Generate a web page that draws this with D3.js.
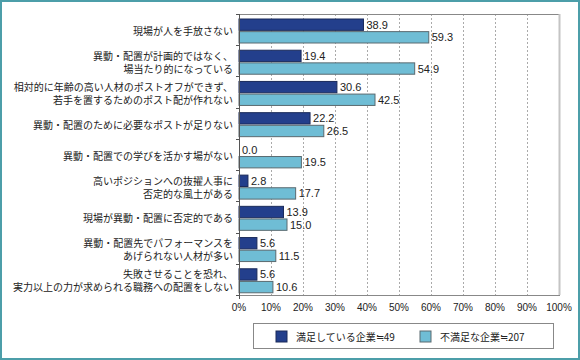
<!DOCTYPE html>
<html>
<head>
<meta charset="utf-8">
<script src="https://cdn.jsdelivr.net/npm/d3@7"></script>
<style>
  body { margin: 0; background: #fff; }
  text { font-family: "Noto Sans CJK JP", sans-serif; fill: #222; }
  .num { font-family: "Liberation Sans", Arial, sans-serif; }
</style>
</head>
<body>
<div id="wrapper"></div>
<script>
// data
const categories = [
  ["現場が人を手放さない"],
  ["異動・配置が計画的ではなく、", "場当たり的になっている"],
  ["相対的に年齢の高い人材のポストオフができず、", "若手を置するためのポスト配が作れない"],
  ["異動・配置のために必要なポストが足りない"],
  ["異動・配置での学びを活かす場がない"],
  ["高いポジションへの抜擢人事に", "否定的な風土がある"],
  ["現場が異動・配置に否定的である"],
  ["異動・配置先でパフォーマンスを", "あげられない人材が多い"],
  ["失敗させることを恐れ、", "実力以上の力が求められる職務への配置をしない"]
];
const satisfied = [38.9, 19.4, 30.6, 22.2, 0.0, 2.8, 13.9, 5.6, 5.6];
const unsatisfied = [59.3, 54.9, 42.5, 26.5, 19.5, 17.7, 15.0, 11.5, 10.6];
const seriesNames = ["満足している企業≒49", "不満足な企業≒207"];
const xTicks = [0, 10, 20, 30, 40, 50, 60, 70, 80, 90, 100];

const width = 580, height = 360;
const plot = { left: 239, right: 559, top: 14, bottom: 295 };
const colors = ["#233f8c", "#6fbdd5"];
const strokes = ["#1a2a5a", "#5a6a70"];

const svg = d3.select("#wrapper").append("svg")
    .attr("width", width)
    .attr("height", height);

// outer frame
svg.append("rect")
    .attr("x", 1).attr("y", 1)
    .attr("width", width - 2).attr("height", height - 2)
    .attr("fill", "none")
    .attr("stroke", "#4c9ea9")
    .attr("stroke-width", 2);

const x = d3.scaleLinear().domain([0, 100]).range([plot.left, plot.right]);
const y0 = d3.scaleBand().domain(d3.range(categories.length)).range([plot.top, plot.bottom]);
const y1 = d3.scaleBand().domain([0, 1]).range([5, 29]).paddingInner(0.1);

// gridlines
svg.append("g")
  .selectAll("line")
  .data(xTicks.slice(1, -1))
  .join("line")
    .attr("x1", d => x(d) + 0.5).attr("x2", d => x(d) + 0.5)
    .attr("y1", plot.top).attr("y2", plot.bottom)
    .attr("stroke", "#aaa")
    .attr("stroke-dasharray", "2,2");

// plot border: top/right with shaded right edge
svg.append("line")
    .attr("x1", plot.left).attr("x2", plot.right)
    .attr("y1", plot.top + 0.5).attr("y2", plot.top + 0.5)
    .attr("stroke", "#888");
svg.append("line")
    .attr("x1", plot.right + 0.5).attr("x2", plot.right + 0.5)
    .attr("y1", plot.top).attr("y2", plot.bottom)
    .attr("stroke", "#c4c4c4").attr("stroke-width", 2);
svg.append("line")
    .attr("x1", plot.left).attr("x2", plot.right + 1)
    .attr("y1", plot.bottom + 0.5).attr("y2", plot.bottom + 0.5)
    .attr("stroke", "#888");

// bars
const groups = svg.append("g")
  .selectAll("g")
  .data(categories.map((c, i) => ({ i, vals: [satisfied[i], unsatisfied[i]] })))
  .join("g")
    .attr("transform", d => `translate(0,${y0(d.i)})`);

groups.selectAll("rect")
  .data(d => d.vals.map((v, s) => ({ v, s })))
  .join("rect")
    .attr("x", x(0))
    .attr("y", d => y1(d.s))
    .attr("width", d => x(d.v) - x(0))
    .attr("height", y1.bandwidth())
    .attr("fill", d => colors[d.s])
    .attr("stroke", d => d.v > 0 ? strokes[d.s] : "none")
    .attr("stroke-width", 1);

groups.selectAll("text.val")
  .data(d => d.vals.map((v, s) => ({ v, s })))
  .join("text")
    .attr("class", "val num")
    .attr("x", d => x(d.v) + 3)
    .attr("y", d => y1(d.s) + y1.bandwidth() / 2 + 4)
    .attr("font-size", 11)
    .text(d => d.v.toFixed(1));

// left axis
svg.append("line")
    .attr("x1", plot.left + 0.5).attr("x2", plot.left + 0.5)
    .attr("y1", plot.top).attr("y2", plot.bottom + 4)
    .attr("stroke", "#555");
svg.append("g")
  .selectAll("line")
  .data(d3.range(categories.length + 1))
  .join("line")
    .attr("x1", plot.left - 3).attr("x2", plot.left)
    .attr("y1", d => Math.round(plot.top + d * y0.step()) + 0.5)
    .attr("y2", d => Math.round(plot.top + d * y0.step()) + 0.5)
    .attr("stroke", "#555");

// category labels
const catLabels = svg.append("g")
  .selectAll("text")
  .data(categories)
  .join("text")
    .attr("text-anchor", "end")
    .attr("font-size", 10)
    .attr("transform", (d, i) => `translate(233,${y0(i) + y0.bandwidth() / 2 + 2})`);

catLabels.selectAll("tspan")
  .data(d => d.map((line, k) => ({ line, k, n: d.length })))
  .join("tspan")
    .attr("x", 0)
    .attr("y", d => (d.k - (d.n - 1) / 2) * 13 + 3.5)
    .text(d => d.line);

// x ticks
svg.append("g")
  .selectAll("text")
  .data(xTicks)
  .join("text")
    .attr("class", "num")
    .attr("x", d => x(d))
    .attr("y", 311)
    .attr("text-anchor", "middle")
    .attr("font-size", 10)
    .text(d => d + "%");

// legend
svg.append("rect")
    .attr("x", 253.5).attr("y", 323.5)
    .attr("width", 300).attr("height", 25)
    .attr("fill", "#fff")
    .attr("stroke", "#888");

const legendX = [276, 420];
const legend = svg.append("g")
  .selectAll("g")
  .data(seriesNames)
  .join("g")
    .attr("transform", (d, i) => `translate(${legendX[i]},331)`);

legend.append("rect")
    .attr("width", 11).attr("height", 11)
    .attr("fill", (d, i) => colors[i])
    .attr("stroke", (d, i) => strokes[i]);

legend.append("text")
    .attr("x", 20)
    .attr("y", 9.5)
    .attr("font-size", 10)
    .text(d => d);
</script>
</body>
</html>
